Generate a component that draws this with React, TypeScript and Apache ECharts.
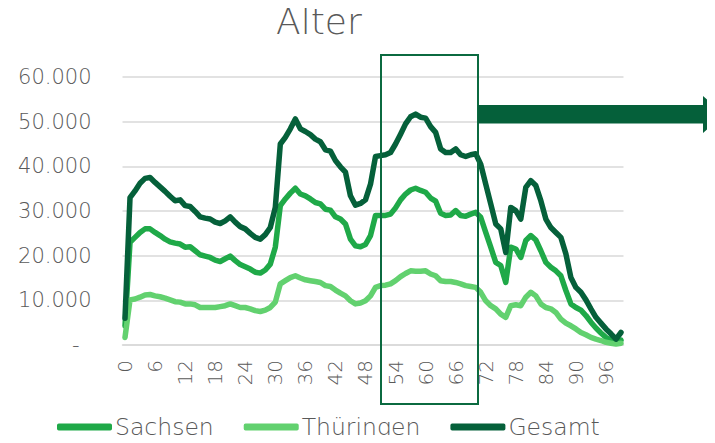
import React, { useEffect, useRef } from "react";
import * as echarts from "echarts";

const ages: string[] = Array.from({ length: 100 }, (_, i) => String(i));

const sachsen: number[] = [
  4300, 23000, 24100, 25200, 26000, 26000, 25200, 24500, 23700, 23100,
  22800, 22600, 21900, 22000, 21100, 20200, 19900, 19600, 19000, 18700,
  19300, 19900, 18900, 18000, 17500, 17000, 16300, 16100, 16800, 18100,
  21900, 31200, 32700, 34000, 35100, 33800, 33400, 32700, 31900, 31600,
  30400, 30200, 28700, 28200, 27100, 23700, 22200, 22000, 22500, 24500,
  29000, 29000, 29000, 29300, 30700, 32500, 33800, 34700, 35100, 34600,
  34200, 32900, 32200, 29500, 29000, 29100, 30100, 29000, 28800, 29300,
  29700, 28600, 25200, 21900, 18500, 17800, 14000, 21900, 21500, 19600,
  23400, 24500, 23500, 21100, 18500, 17400, 16600, 15500, 12200, 9200,
  8400, 7800, 6600, 5100, 3800, 2700, 1700, 1100, 700, 1100,
];

const thueringen: number[] = [
  1700, 10100, 10300, 10700, 11200, 11300, 11000, 10800, 10500, 10100,
  9700, 9600, 9200, 9200, 9000, 8400, 8400, 8400, 8400, 8600,
  8800, 9200, 8800, 8400, 8400, 8100, 7700, 7500, 7800, 8400,
  9600, 13700, 14400, 15100, 15500, 15000, 14600, 14400, 14200, 14000,
  13300, 13100, 12300, 11600, 11000, 9900, 9200, 9400, 9900, 11000,
  12900, 13300, 13400, 13700, 14400, 15300, 16000, 16600, 16500, 16500,
  16600, 15900, 15500, 14400, 14200, 14200, 14000, 13700, 13300, 13100,
  12900, 11800, 9900, 8800, 8100, 6900, 6200, 8800, 9000, 8800,
  10700, 11800, 11000, 9200, 8400, 8100, 7300, 5800, 4900, 4300,
  3600, 2800, 2300, 1700, 1300, 1000, 600, 400, 200, 400,
];

const gesamt: number[] = [
  6000, 33000, 34500, 36200, 37300, 37500, 36400, 35400, 34400, 33300,
  32300, 32500, 31200, 31000, 29900, 28700, 28400, 28200, 27500, 27200,
  27800, 28700, 27500, 26500, 26000, 25000, 24100, 23700, 24700, 26300,
  30800, 45000, 46500, 48400, 50600, 48400, 47800, 47100, 46100, 45500,
  43700, 43400, 41300, 39900, 38700, 33400, 31300, 31700, 32500, 36000,
  42200, 42400, 42600, 43100, 45000, 47200, 49500, 51100, 51700, 51000,
  50800, 48900, 47600, 43900, 43100, 43100, 43900, 42600, 42200, 42600,
  42800, 40500, 36000, 31600, 27100, 26000, 20700, 30800, 30100, 28200,
  35300, 36800, 35700, 32300, 28200, 26300, 25200, 24100, 20400, 15100,
  12900, 11800, 10100, 8100, 6200, 4900, 3600, 2500, 1300, 2800,
];

const seriesNames = ["Sachsen", "Thüringen", "Gesamt"];
const seriesColors = ["#1fa948", "#62d16f", "#05603a"];
const titleText = "Alter";

const FONT = "'DejaVu Sans', sans-serif";
const GREY = "#595959";

export default function App() {
  const ref = useRef<HTMLDivElement>(null);

  useEffect(() => {
    if (!ref.current) return;
    const chart = echarts.init(ref.current, undefined, { renderer: "svg" });
    const dataSets = [sachsen, thueringen, gesamt];
    chart.setOption({
      animation: false,
      title: {
        text: titleText,
        left: 271,
        top: -2,
        textStyle: { fontFamily: FONT, fontSize: 36, fontWeight: 200, color: GREY },
      },
      grid: { left: 122.5, right: 91.5, top: 77, bottom: 98, containLabel: false },
      legend: {
        data: seriesNames,
        left: 57,
        top: 415,
        padding: 0,
        itemWidth: 55,
        itemHeight: 7,
        itemGap: 30,
        icon: "roundRect",
        textStyle: { fontFamily: FONT, fontSize: 23.5, fontWeight: 200, color: GREY, padding: [0, 0, 0, -2] },
      },
      xAxis: {
        type: "category",
        data: ages,
        boundaryGap: true,
        axisLine: { show: true, lineStyle: { color: "#d9d9d9", width: 1.5 } },
        axisTick: { show: false },
        axisLabel: {
          interval: 5,
          rotate: 90,
          margin: 15,
          fontFamily: FONT,
          fontSize: 20,
          fontWeight: 200,
          color: GREY,
        },
      },
      yAxis: {
        type: "value",
        min: 0,
        max: 60000,
        interval: 10000,
        axisLine: { show: false },
        axisTick: { show: false },
        splitLine: { lineStyle: { color: "#d9d9d9", width: 1.5 } },
        axisLabel: {
          margin: 31,
          fontFamily: FONT,
          fontSize: 21,
          fontWeight: 200,
          color: GREY,
          formatter: (v: number) => (v === 0 ? "{d|-}" : `${v / 1000}.000`),
          rich: {
            d: { fontFamily: FONT, fontSize: 21, fontWeight: 200, color: GREY, padding: [0, 12, 0, 0] },
          },
        },
      },
      series: seriesNames.map((name, k) => ({
        name,
        type: "line",
        data: dataSets[k],
        symbol: "none",
        lineStyle: { width: 5.5, color: seriesColors[k], cap: "round", join: "round" },
        itemStyle: { color: seriesColors[k] },
      })),
      graphic: [
        {
          type: "rect",
          shape: { x: 381, y: 55, width: 97, height: 349 },
          style: { fill: "none", stroke: "#0b6a40", lineWidth: 2 },
          z: 10,
        },
        {
          type: "polygon",
          shape: {
            points: [
              [478, 105],
              [703, 105],
              [703, 96],
              [724, 114.5],
              [703, 133],
              [703, 123.5],
              [478, 123.5],
            ],
          },
          style: { fill: "#05603a" },
          z: 10,
        },
      ],
    });
    return () => chart.dispose();
  }, []);

  return <div ref={ref} style={{ width: 715, height: 443, margin: -8 }} />;
}
